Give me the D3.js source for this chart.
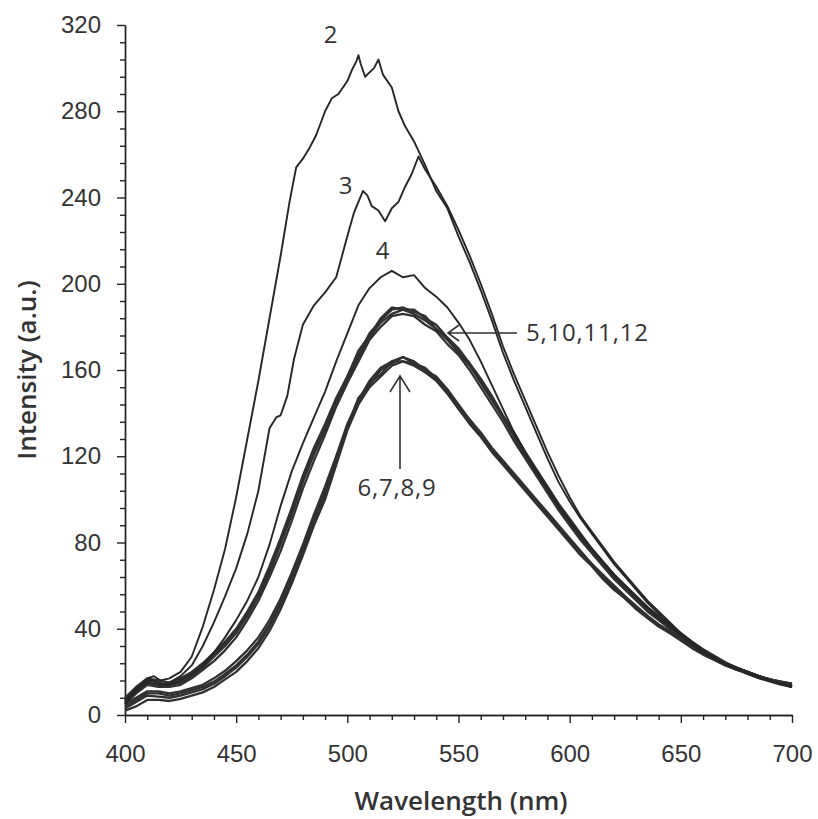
<!DOCTYPE html>
<html>
<head>
<meta charset="utf-8">
<script src="https://cdn.jsdelivr.net/npm/d3@7"></script>
<style>
  body { margin: 0; background: #fff; }
  .tick text { font-family: "Liberation Sans", Arial, sans-serif; font-size: 24px; fill: #333; }
  .axis path, .axis line { stroke: #222; stroke-width: 1.4; }
  .curve { fill: none; stroke: #262626; stroke-width: 1.9; stroke-linejoin: round; }
  .grp { stroke-width: 2.3; stroke: #303030; }
  .title { font-family: "Open Sans", sans-serif; font-weight: 600; font-size: 26px; fill: #333; }
  .note { font-family: "Open Sans", sans-serif; font-size: 24px; letter-spacing: 0.8px; fill: #333; }
</style>
</head>
<body>
<div id="chart"></div>
<script>
var width = 818;
var height = 819;

// wavelength grid (nm), every 5 nm
var wl = [400,405,410,415,420,425,430,435,440,445,450,455,460,465,470,475,480,485,490,495,
          500,505,510,515,520,525,530,535,540,545,550,555,560,565,570,575,580,585,590,595,
          600,605,610,615,620,625,630,635,640,645,650,655,660,665,670,675,680,685,690,695,700];

// curve 2 (own grid, peak has double spike)
var c2x = [400,403,406,410,413,416,420,425,430,435,440,445,450,455,460,465,470,474,477,480,
           483,486,490,493,496,500,502,504,505,506,508,510,512,514,516,518,520,523,526,530,
           535,540,545,550,555,560,565,570,575,580,585,590,595,600,605,610,615,620,625,630,
           635,640,645,650,655,660,665,670,675,680,685,690,695,700];
var c2y = [6,10,13,17,18,16,17,20,27,41,58,77,101,128,155,184,213,238,254,258,
           263,269,280,286,288,294,299,303,306,302,296,298,300,304,297,294,291,280,273,266,
           255,243,235,222,210,197,183,168,155,143,131,119,108,99,91,84,77,70,64,58,
           52,47,42,37,33,29,26,23,21,19,17,15.5,14,13];

// curve 3 (own grid, shoulder ~468 nm, dip ~517 nm)
var c3x = [400,403,406,410,413,416,420,425,430,435,440,445,450,455,460,465,468,470,473,476,
           480,485,490,495,500,503,507,509,511,514,517,520,523,526,529,532,535,540,545,550,
           555,560,565,570,575,580,585,590,595,600,605,610,615,620,625,630,635,640,645,650,
           655,660,665,670,675,680,685,690,695,700];
var c3y = [5,9,12,16,16,14,15,18,23,32,43,55,68,84,104,133,138,139,148,165,
           181,190,196,203,222,233,243,241,236,234,229,235,238,245,251,259,253,245,236,225,
           213,200,186,171,158,146,134,122,111,101,92,85,78,71,65,59,53,48,43,38,
           34,30,27,24,21.5,19.5,17.5,16,14.5,13.5];

// curve 4
var c4 = [7,11,15,14,14,16,19,23,29,36,44,53,64,79,97,113,126,138,150,164,
          177,190,198,203,206,203,204,198,194,189,182,174,164,153,142,131,122,113,105,97,
          90,83,77,71,65,60,55,50,45,41,37,33,30,27,24,22,20,18,16,14.5,13];

// curves 5,10,11,12
var c5 = [6,11,15,14,14,15,18,22,27,32,38,46,55,66,79,93,108,121,132,145,
          155,166,175,182,186,188,186,183,179,174,168,162,154,146,138,129,120,112,104,96,
          89,82,76,70,64,59,54,49,45,41,37,33,30,27,24,22,20,18,16,14.5,13];
var c10 = [8,13,17,16,15,17,20,24,29,34,40,48,57,69,82,96,111,124,135,147,
           157,169,176,184,189,188,188,184,181,175,170,163,156,148,139,131,122,114,106,98,
           91,84,77,71,65,60,55,50,46,42,38,34,30.5,27.5,24.5,22,20,18,16.5,15,13.5];
var c11 = [5,10,14,13,13,14,17,21,25,30,36,44,53,64,76,90,105,118,130,143,
           154,164,174,180,185,186,185,181,178,172,167,160,152,144,136,127,119,111,103,95,
           88,81,75,69,63,58,53,48,44,40,36,32.5,29.5,26.5,24,21.5,19.5,17.5,16,14.5,13];
var c12 = [7,12,16,15,14,16,19,23,28,33,39,47,56,67,80,94,109,122,133,146,
           157,167,177,183,188,189,187,185,179,175,169,163,155,147,138,130,121,113,105,97,
           90,83,77,71,65,59,54,49,45,41,37,33.5,30,27,24,22,20,18,16,14.5,13];

// curves 6,7,8,9
var c6 = [2,4,7,7,6.5,7.5,9,10.5,13,16.5,20,25,31,39,49,61,74,88,100,116,
          132,144,152,157,162,164,162,159,155,149,142,135,129,122,116,110,104,98,92,86,
          80,74,69,63,58,54,49,45,41,38,34.5,31,28,25.5,23,21,19.5,18,16.5,15.5,14.5];
var c7 = [4,7,10,10,9,10,11.5,13,15.5,19,23,28,34,42,52,64,77,91,104,119,
          134,147,153,160,163,166,163,161,156,151,143,137,130,123,117,111,105,99,93,87,
          81,75,70,64,59,54.5,50,46,42,38.5,35,31.5,28.5,26,23.5,21.5,19.5,18,16.5,15,14];
var c8 = [3,6,9,8.5,8,9,10.5,12,14.5,18,22,27,33,41,51,63,76,90,102,118,
          133,145,154,158,164,164,163,159,156,150,142,136,130,123,117,111,105,99,93,87,
          81,75,69.5,64,59,54,49.5,45.5,41.5,38,35,31.5,28.5,26,23.5,21,19.5,18,16.5,15,14];
var c9 = [5,8,11,11,10,11,12.5,14,17,20.5,25,30,36,44,54,66,79,93,106,120,
          135,146,155,161,164,166,164,160,157,151,144,137,131,124,118,112,106,100,94,88,
          82,76,70,65,60,55,50.5,46,42,39,35.5,32,29,26,23.5,21.5,20,18,16.5,15.5,14.5];

var yTicks = [0,40,80,120,160,200,240,280,320];
var xTicks = [400,450,500,550,600,650,700];
var yMinor = [8,16,24,32,48,56,64,72,88,96,104,112,128,136,144,152,168,176,184,192,
              208,216,224,232,248,256,264,272,288,296,304,312];
var xMinor = [410,420,430,440,460,470,480,490,510,520,530,540,560,570,580,590,
              610,620,630,640,660,670,680,690];

var svg = d3
  .select("#chart")
  .append("svg")
  .attr("width", width)
  .attr("height", height);

var x = d3.scaleLinear().domain([400, 700]).range([125, 792]);
var y = d3.scaleLinear().domain([0, 320]).range([715, 25]);

// minor ticks first, then the labelled ones
svg.append("g")
  .attr("class", "axis")
  .attr("transform", "translate(0,715)")
  .call(d3.axisBottom(x).tickValues(xMinor).tickSize(5).tickSizeOuter(0).tickFormat(""));
svg.append("g")
  .attr("class", "axis")
  .attr("transform", "translate(125,0)")
  .call(d3.axisLeft(y).tickValues(yMinor).tickSize(5).tickSizeOuter(0).tickFormat(""));

svg.append("g")
  .attr("class", "axis")
  .attr("transform", "translate(0,715)")
  .call(d3.axisBottom(x).tickValues(xTicks).tickSize(8).tickSizeOuter(0).tickPadding(22));
svg.append("g")
  .attr("class", "axis")
  .attr("transform", "translate(125,0)")
  .call(d3.axisLeft(y).tickValues(yTicks).tickSize(8).tickSizeOuter(0).tickPadding(16));

var line = d3.line()
  .x(function(d) { return x(d[0]); })
  .y(function(d) { return y(d[1]); });

function pairs(xs, ys) {
  return xs.map(function(v, i) { return [v, ys[i]]; });
}

var plot = svg.append("g");

// grouped curves drawn a bit heavier, they overlap into a band
[c6, c7, c8, c9, c5, c10, c11, c12].forEach(function(s) {
  plot.append("path")
    .attr("class", "curve grp")
    .attr("d", line(pairs(wl, s)));
});

plot.append("path").attr("class", "curve").attr("d", line(pairs(wl, c4)));
plot.append("path").attr("class", "curve").attr("d", line(pairs(c3x, c3y)));
plot.append("path").attr("class", "curve").attr("d", line(pairs(c2x, c2y)));

// curve labels
var notes = svg.append("g");
notes.append("text").attr("class", "note").attr("x", 331).attr("y", 43).attr("text-anchor", "middle").text("2");
notes.append("text").attr("class", "note").attr("x", 346).attr("y", 194).attr("text-anchor", "middle").text("3");
notes.append("text").attr("class", "note").attr("x", 383).attr("y", 259).attr("text-anchor", "middle").text("4");

notes.append("text").attr("class", "note").attr("x", 526).attr("y", 341).text("5,10,11,12");
notes.append("text").attr("class", "note").attr("x", 397).attr("y", 496).attr("text-anchor", "middle").text("6,7,8,9");

// pointer lines
notes.append("path")
  .attr("d", "M517,333 L448,333 M459,325 L448,333 L459,341")
  .attr("fill", "none").attr("stroke", "#333").attr("stroke-width", 1.6);
notes.append("path")
  .attr("d", "M400,469 L400,376 M390,392 L400,376 L410,392")
  .attr("fill", "none").attr("stroke", "#333").attr("stroke-width", 1.6);

// axis titles
svg.append("text")
  .attr("class", "title")
  .attr("x", 461)
  .attr("y", 810)
  .attr("text-anchor", "middle")
  .text("Wavelength (nm)");

svg.append("text")
  .attr("class", "title")
  .attr("transform", "translate(36,370) rotate(-90)")
  .attr("text-anchor", "middle")
  .text("Intensity (a.u.)");
</script>
</body>
</html>
